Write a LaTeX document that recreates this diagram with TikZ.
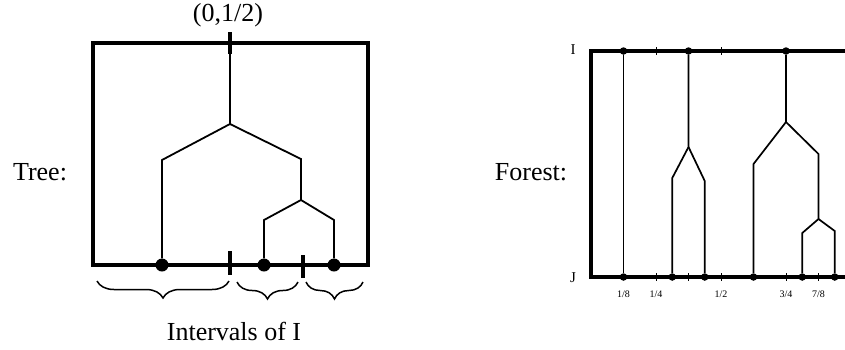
\documentclass[tikz,border=0pt]{standalone}
\usepackage{fontspec}
\setmainfont{Liberation Serif}
\usetikzlibrary{decorations.pathreplacing}

\begin{document}
\begin{tikzpicture}[
    x=1pt, y=-1pt,
    frame/.style={line width=4.5pt},
    rframe/.style={line width=4pt},
    branch/.style={line width=1.8pt},
    twig/.style={line width=1.7pt},
    leaf/.style={circle, fill=black, inner sep=0pt, minimum size=13pt},
    knot/.style={circle, fill=black, inner sep=0pt, minimum size=7.5pt},
    cut/.style={line width=4pt},
    notch/.style={line width=0.8pt},
    wave/.style={decorate, decoration={brace, mirror, amplitude=17pt}, line width=1.5pt},
    lbl/.style={font=\fontsize{26}{30}\selectfont},
    small/.style={font=\fontsize{15}{18}\selectfont},
    tiny/.style={font=\fontsize{10}{12}\selectfont}
]
\useasboundingbox (0,0) rectangle (845,349);

% tree
\draw[frame] (93,43) rectangle (368,265);
\node[leaf] (ta) at (162,265) {};
\node[leaf] (tb) at (264,265) {};
\node[leaf] (tc) at (334,265) {};
\coordinate (troot) at (230,43);
\coordinate (tfork) at (230,124);
\coordinate (tl) at (162,160);
\coordinate (tr) at (301,159);
\coordinate (tsub) at (301,200);
\coordinate (tsl) at (264,220);
\coordinate (tsr) at (334,220);
\draw[branch] (troot) -- (tfork) -- (tl) -- (ta);
\draw[branch] (tfork) -- (tr) -- (tsub) -- (tsl) -- (tb);
\draw[branch] (tsub) -- (tsr) -- (tc);
\draw[cut] (230,32) -- (230,54);
\draw[cut] (230,251) -- (230,275);
\draw[cut] (303,255) -- (303,278);

\draw[wave] (97,281) -- (229,281);
\draw[wave] (237,282) -- (298,282);
\draw[wave] (306,282) -- (363,282);

\node[lbl] (toplbl) at (228,15) {(0,1/2)};
\node[lbl, anchor=base] (treelbl) at (40,180) {Tree:};
\node[lbl, anchor=base] (intlbl) at (234,340) {Intervals of I};

% forest
\node[lbl, anchor=base] (forestlbl) at (531,180) {Forest:};
\node[small] (ilbl) at (573,50) {I};
\node[small] (jlbl) at (573,278) {J};
\begin{scope}
\clip (0,0) rectangle (845,349);
\begin{scope}[shift={(591,0)}, x=260pt]
  \draw[rframe] (0,51) rectangle (1,277);
  \foreach \f in {0.25,0.5}
    \draw[notch] (\f,47) -- (\f,55);
  \foreach \f in {0.25,0.375,0.5,0.75,0.875}
    \draw[notch] (\f,273) -- (\f,281);
  \foreach \n/\d in {1/8,1/4,1/2,3/4,7/8}
    \node[tiny] (frac\n\d) at ({\n/\d},294) {\n/\d};

  \node[knot] (ia) at (0.125,51) {};
  \node[knot] (ib) at (0.375,51) {};
  \node[knot] (ic) at (0.75,51) {};
  \node[knot] (ja) at (0.125,277) {};
  \node[knot] (jb) at (0.3125,277) {};
  \node[knot] (jc) at (0.4375,277) {};
  \node[knot] (jd) at (0.625,277) {};
  \node[knot] (je) at (0.8125,277) {};
  \node[knot] (jf) at (0.9375,277) {};
  \coordinate (bfork) at (0.375,147);
  \coordinate (bl) at (0.3125,178);
  \coordinate (br) at (0.4375,181);
  \coordinate (cfork) at (0.75,122);
  \coordinate (cl) at (0.625,164);
  \coordinate (cr) at (0.875,154);
  \coordinate (csub) at (0.875,219);
  \coordinate (csl) at (0.8125,233);
  \coordinate (csr) at (0.9375,231);

  \draw[twig] (ia) -- (ja);
  \draw[twig] (ib) -- (bfork) -- (bl) -- (jb);
  \draw[twig] (bfork) -- (br) -- (jc);
  \draw[twig] (ic) -- (cfork) -- (cl) -- (jd);
  \draw[twig] (cfork) -- (cr) -- (csub) -- (csl) -- (je);
  \draw[twig] (csub) -- (csr) -- (jf);
\end{scope}
\end{scope}
\end{tikzpicture}
\end{document}
